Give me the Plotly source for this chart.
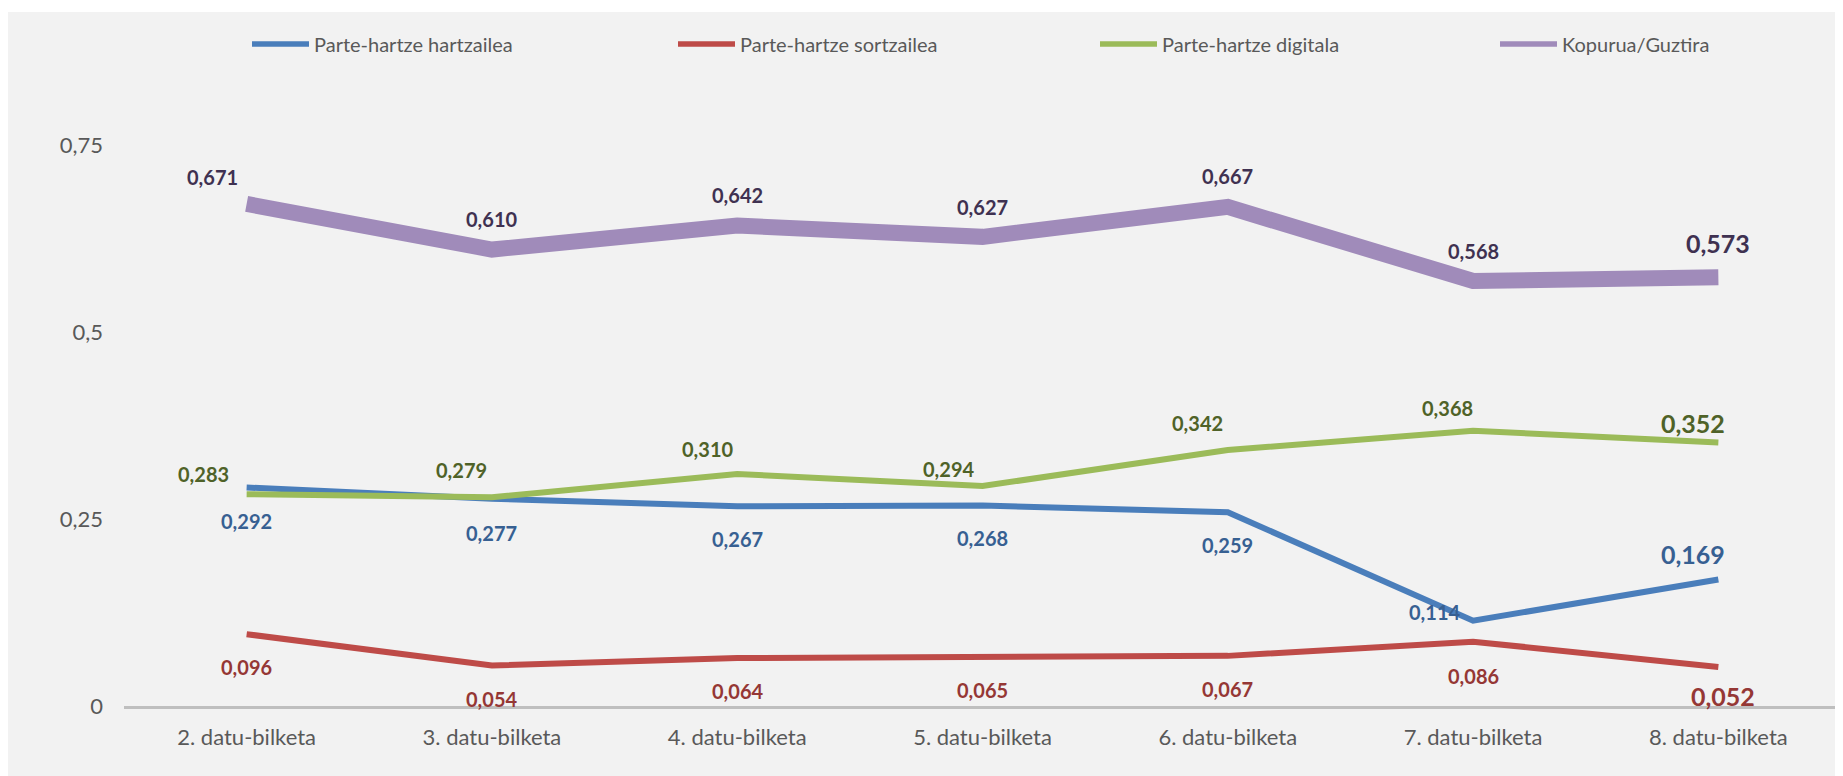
import plotly.graph_objects as go

# data
categories = ["2. datu-bilketa", "3. datu-bilketa", "4. datu-bilketa", "5. datu-bilketa",
              "6. datu-bilketa", "7. datu-bilketa", "8. datu-bilketa"]
hartzailea = [0.292, 0.277, 0.267, 0.268, 0.259, 0.114, 0.169]
sortzailea = [0.096, 0.054, 0.064, 0.065, 0.067, 0.086, 0.052]
digitala = [0.283, 0.279, 0.310, 0.294, 0.342, 0.368, 0.352]
guztira = [0.671, 0.610, 0.642, 0.627, 0.667, 0.568, 0.573]
names = ["Parte-hartze hartzailea", "Parte-hartze sortzailea", "Parte-hartze digitala", "Kopurua/Guztira"]
y_ticks = [0, 0.25, 0.5, 0.75]

# styles (the page body has an 8px margin, so the figure is 8px smaller)
FONT = "Lato, Carlito, Calibri, sans-serif"
PAGE = 8
W, H = 1843 - PAGE, 776 - PAGE
ML, MR, MT, MB = 124 - PAGE, 2, 70 - PAGE, 70
line_colors = ["#4A7EBB", "#BE4B48", "#9BBB59", "#A08BBA"]
label_colors = ["#376092", "#953735", "#4F6228", "#3F3151"]
line_widths = [6, 6, 6, 16]

# label offsets in px (dx, dy up)
offsets = [
  [(0, -33), (0, -34), (0, -33), (0, -33), (0, -33), (-39, 9), (-25, 26)],
  [(0, -33), (0, -33), (0, -33), (0, -33), (0, -33), (0, -34), (5, -29)],
  [(-43, 20), (-30, 27), (-30, 25), (-34, 17), (-30, 27), (-26, 23), (-25, 20)],
  [(-34, 27), (0, 31), (0, 31), (0, 30), (0, 31), (0, 30), (0, 34)],
]
legend_px = [252, 678, 1100, 1500]

series = [hartzailea, sortzailea, digitala, guztira]

fig = go.Figure()
for i, vals in enumerate(series):
  fig.add_trace(go.Scatter(x=categories, y=vals, mode="lines", name=names[i],
                           line=dict(color=line_colors[i], width=line_widths[i]),
                           showlegend=False, hoverinfo="x+y+name"))

# legend-only traces so the legend lines stay thin
for i in range(4):
  fig.add_trace(go.Scatter(x=[None], y=[None], mode="lines", name=names[i],
                           line=dict(color=line_colors[i], width=5.5),
                           legend="legend" if i == 0 else "legend%d" % (i + 1)))

annotations = []
for i, vals in enumerate(series):
  for j, v in enumerate(vals):
    last = j == len(vals) - 1
    annotations.append(dict(
      x=categories[j], y=v, xref="x", yref="y", showarrow=False,
      text=("%.3f" % v).replace(".", ","),
      xshift=offsets[i][j][0], yshift=offsets[i][j][1],
      xanchor="center", yanchor="middle",
      font=dict(family=FONT, size=25 if last else 20, color=label_colors[i], weight="bold")))

pw = W - ML - MR
ph = H - MT - MB

legends = {}
for i, px in enumerate(legend_px):
  key = "legend" if i == 0 else "legend%d" % (i + 1)
  legends[key] = dict(x=(px - PAGE - 5 - ML) / pw, xanchor="left", y=(H - MB - (44 - PAGE)) / ph,
                      yanchor="middle", orientation="h", bgcolor="rgba(0,0,0,0)", itemwidth=57,
                      font=dict(family=FONT, size=20, color="#595959"))

# white strip above the grey chart area
shapes = [
  dict(type="rect", xref="paper", yref="paper", x0=-ML / pw, x1=(W - ML) / pw,
       y0=(H - MB - 4) / ph, y1=(H - MB) / ph, fillcolor="white", line_width=0, layer="below"),
]

fig.update_layout(
  width=W, height=H,
  margin=dict(l=ML, r=MR, t=MT, b=MB),
  paper_bgcolor="#F2F2F2", plot_bgcolor="#F2F2F2",
  separators=",.",
  annotations=annotations,
  shapes=shapes,
  **legends,
)
fig.update_xaxes(type="category", range=[-0.5, 6.5], showgrid=False, zeroline=False,
                 showline=True, linecolor="#BFBFBF", linewidth=3, ticks="",
                 ticklabelstandoff=10,
                 tickfont=dict(family=FONT, size=22, color="#595959"))
fig.update_yaxes(range=[0, 0.85], showgrid=False, zeroline=False, showline=False,
                 tickvals=y_ticks, ticks="", ticklabelstandoff=20,
                 tickfont=dict(family=FONT, size=22, color="#595959"))

fig.write_html("out.html")
